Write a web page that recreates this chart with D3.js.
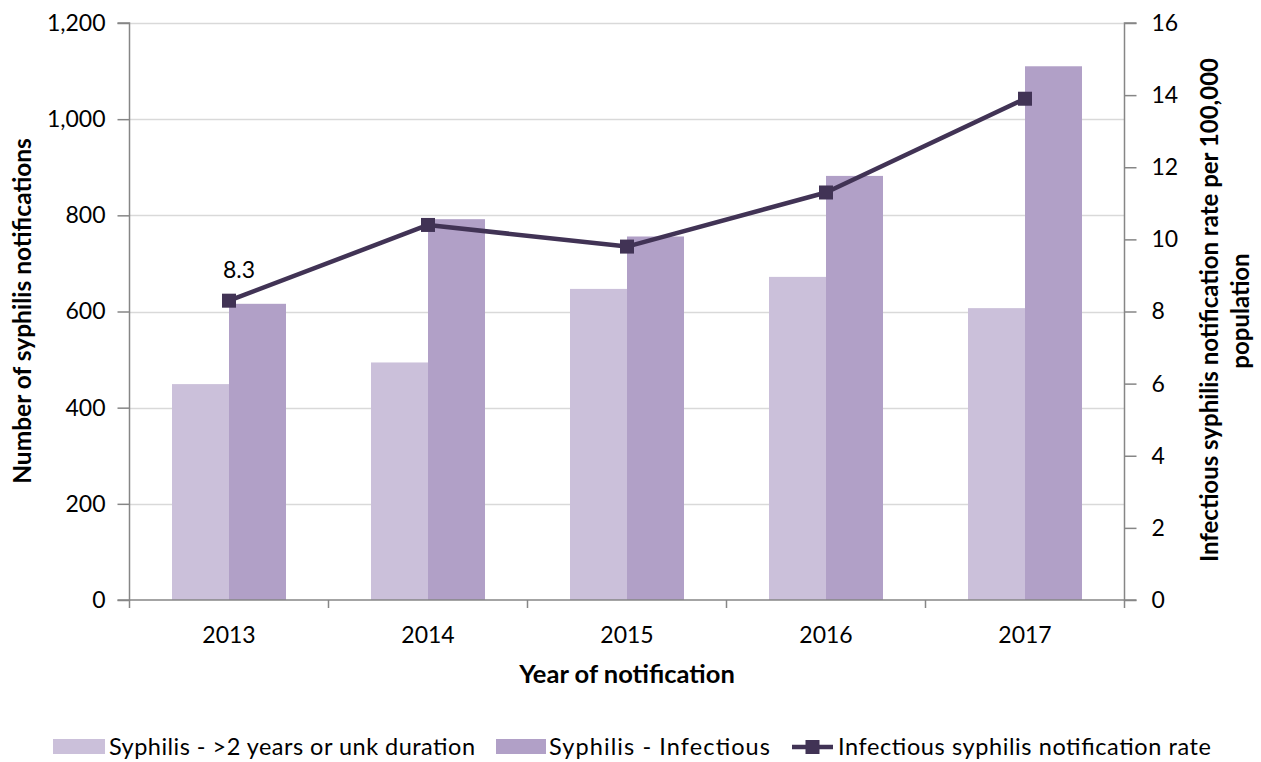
<!DOCTYPE html>
<html><head><meta charset="utf-8">
<script src="https://cdn.jsdelivr.net/npm/d3@7"></script>
<style>body{margin:0;background:#fff}svg text{font-family:Lato,"Open Sans",sans-serif;fill:#000}</style>
</head><body><svg id="c" width="1261" height="762"></svg>
<script>
const years = ["2013","2014","2015","2016","2017"];
const lateSyphilis = [449, 494, 647, 672, 607];
const infectiousSyphilis = [616, 792, 756, 882, 1110];
const rate = [8.3, 10.4, 9.8, 11.3, 13.9];
const rateLabels = ["8.3", null, null, null, "13.9"];
const leftTicks = [0, 200, 400, 600, 800, 1000, 1200];
const rightTicks = [0, 2, 4, 6, 8, 10, 12, 14, 16];
const seriesNames = ["Syphilis - >2 years or unk duration", "Syphilis - Infectious", "Infectious syphilis notification rate"];
const colors = ["#CBC0DA", "#B1A0C7", "#413355"];

const svg = d3.select("#c");
const L = 129.5, R = 1124.5, T = 23, B = 600;
const x = d3.scaleBand().domain(years).range([L, R]);
const yL = d3.scaleLinear().domain([0, 1200]).range([B, T]);
const yR = d3.scaleLinear().domain([0, 16]).range([B, T]);
const barW = 57;
const tickFont = "23px";

// gridlines
svg.append("g").selectAll("line").data(leftTicks.slice(1)).join("line")
  .attr("x1", L).attr("x2", R).attr("y1", d => Math.round(yL(d)) + 0.5).attr("y2", d => Math.round(yL(d)) + 0.5)
  .attr("stroke", "#D9D9D9").attr("stroke-width", 1.5);

// bars
const c = d => x(d) + x.bandwidth() / 2;
svg.append("g").selectAll("rect").data(years).join("rect")
  .attr("x", d => c(d) - barW).attr("width", barW)
  .attr("y", (d, i) => yL(lateSyphilis[i])).attr("height", (d, i) => B - yL(lateSyphilis[i]))
  .attr("fill", colors[0]);
svg.append("g").selectAll("rect").data(years).join("rect")
  .attr("x", d => c(d)).attr("width", barW)
  .attr("y", (d, i) => yL(infectiousSyphilis[i])).attr("height", (d, i) => B - yL(infectiousSyphilis[i]))
  .attr("fill", colors[1]);

// axes
const axisColor = "#868686";
const gl = svg.append("g").attr("transform", `translate(${L},0)`)
  .call(d3.axisLeft(yL).tickValues(leftTicks).tickFormat(d3.format(",")).tickSize(12).tickPadding(12));
const gr = svg.append("g").attr("transform", `translate(${R},0)`)
  .call(d3.axisRight(yR).tickValues(rightTicks).tickSize(12).tickPadding(15));
const gx = svg.append("g").attr("transform", `translate(0,${B})`)
  .call(d3.axisBottom(x).tickSize(0).tickPadding(27));
const bounds = years.map(d => x(d)).concat([R]);
svg.append("g").selectAll("line").data(bounds).join("line")
  .attr("x1", d => d).attr("x2", d => d).attr("y1", B).attr("y2", B + 8).attr("stroke", axisColor).attr("stroke-width", 1.5);
[gl, gr, gx].forEach(g => {
  g.selectAll("path.domain").attr("stroke", axisColor).attr("stroke-width", 1.5);
  g.selectAll(".tick line").attr("stroke", axisColor).attr("stroke-width", 1.5);
  g.selectAll("text").style("font-size", tickFont).attr("fill", "#000");
});
gl.select("path.domain").attr("d", `M-12,${yL(1200)}H0V${B}H-12`);
gr.select("path.domain").attr("d", `M12,${yR(16)}H0V${B}H12`);
gx.select("path.domain").attr("d", `M${L},0H${R}`);

// line
const line = d3.line().x((d, i) => c(years[i])).y(d => yR(d));
svg.append("path").datum(rate).attr("d", line).attr("fill", "none")
  .attr("stroke", colors[2]).attr("stroke-width", 4.5).attr("stroke-linejoin", "round");
svg.append("g").selectAll("rect").data(rate).join("rect")
  .attr("x", (d, i) => c(years[i]) - 7).attr("y", d => yR(d) - 7).attr("width", 14).attr("height", 14)
  .attr("fill", colors[2]);
svg.append("g").selectAll("text").data(rate).join("text")
  .filter((d, i) => rateLabels[i] != null)
  .attr("x", (d, i) => c(years[i]) + 10).attr("y", d => yR(d) - 23)
  .attr("text-anchor", "middle").style("font-size", tickFont)
  .text((d, i) => rateLabels[i]);

// axis titles
const titleFont = "24px";
svg.append("text").attr("transform", "translate(31,311) rotate(-90)").attr("text-anchor", "middle")
  .style("font-size", "24.5px").style("font-weight", "bold").text("Number of syphilis notifications");
svg.append("text").attr("transform", "translate(1218,310) rotate(-90)").attr("text-anchor", "middle")
  .style("font-size", titleFont).style("font-weight", "bold").text("Infectious syphilis notification rate per 100,000");
svg.append("text").attr("transform", "translate(1249,311) rotate(-90)").attr("text-anchor", "middle")
  .style("font-size", titleFont).style("font-weight", "bold").text("population");
svg.append("text").attr("x", 627).attr("y", 683).attr("text-anchor", "middle")
  .style("font-size", "25.5px").style("font-weight", "bold").text("Year of notification");

// legend
const legFont = "23.5px";
const lg = svg.append("g");
lg.append("rect").attr("x", 53).attr("y", 739).attr("width", 52).attr("height", 15).attr("fill", colors[0]);
lg.append("text").attr("x", 109).attr("y", 755).style("font-size", legFont)
  .attr("textLength", 366).attr("lengthAdjust", "spacing").text(seriesNames[0]);
lg.append("rect").attr("x", 496).attr("y", 739).attr("width", 50).attr("height", 15).attr("fill", colors[1]);
lg.append("text").attr("x", 549).attr("y", 755).style("font-size", legFont)
  .attr("textLength", 221).attr("lengthAdjust", "spacing").text(seriesNames[1]);
lg.append("line").attr("x1", 792).attr("x2", 833).attr("y1", 747).attr("y2", 747).attr("stroke", colors[2]).attr("stroke-width", 4.5);
lg.append("rect").attr("x", 805.5).attr("y", 740).attr("width", 14).attr("height", 14).attr("fill", colors[2]);
lg.append("text").attr("x", 838).attr("y", 755).style("font-size", legFont)
  .attr("textLength", 373).attr("lengthAdjust", "spacing").text(seriesNames[2]);
</script></body></html>
